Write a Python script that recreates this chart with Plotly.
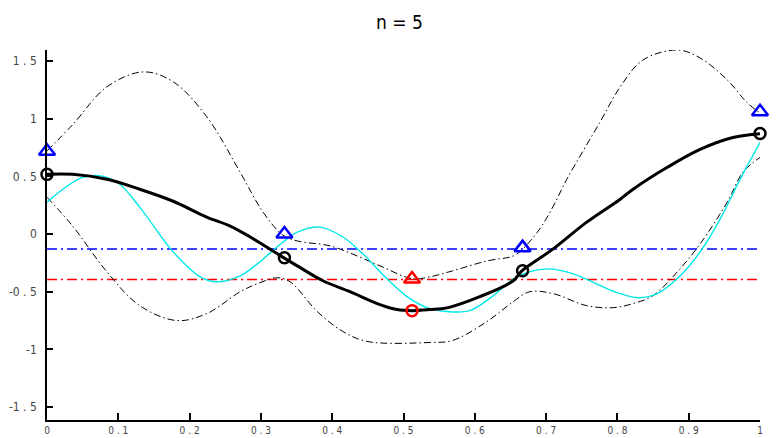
import plotly.graph_objects as go

# ---- data ----
mean_x = [0, 0.036, 0.084, 0.130, 0.177, 0.224, 0.257, 0.285, 0.330, 0.351, 0.387, 0.425, 0.463,
          0.491, 0.512, 0.537, 0.561, 0.607, 0.654, 0.666, 0.710, 0.757, 0.804, 0.822, 0.870,
          0.916, 0.962, 1.0]
mean_y = [0.517, 0.517, 0.474, 0.388, 0.284, 0.147, 0.069, -0.026, -0.198, -0.276, -0.405, -0.500,
          -0.603, -0.655, -0.664, -0.655, -0.640, -0.543, -0.405, -0.319, -0.129, 0.103, 0.302,
          0.388, 0.578, 0.733, 0.836, 0.870]

upper_x = [0, 0.036, 0.084, 0.135, 0.177, 0.224, 0.271, 0.303, 0.331, 0.351, 0.397, 0.435, 0.467,
           0.513, 0.537, 0.569, 0.617, 0.654, 0.668, 0.691, 0.710, 0.729, 0.776, 0.804, 0.836,
           0.884, 0.916, 0.954, 0.982, 1.0]
upper_y = [0.72, 0.948, 1.276, 1.405, 1.319, 1.017, 0.534, 0.190, -0.010, -0.060, -0.103, -0.190,
           -0.276, -0.388, -0.371, -0.319, -0.233, -0.190, -0.125, 0.043, 0.241, 0.474, 0.974,
           1.276, 1.509, 1.595, 1.526, 1.336, 1.138, 1.05]

lower_x = [0, 0.036, 0.084, 0.130, 0.182, 0.224, 0.271, 0.295, 0.323, 0.341, 0.379, 0.415, 0.449,
           0.537, 0.569, 0.617, 0.654, 0.677, 0.710, 0.757, 0.794, 0.822, 0.850, 0.884, 0.916,
           0.954, 0.976, 1.0]
lower_y = [0.319, 0.069, -0.328, -0.621, -0.750, -0.690, -0.500, -0.431, -0.379, -0.414, -0.672,
           -0.845, -0.931, -0.940, -0.922, -0.759, -0.586, -0.500, -0.517, -0.621, -0.638, -0.603,
           -0.534, -0.328, -0.086, 0.276, 0.534, 0.664]

true_x = [0, 0.028, 0.050, 0.079, 0.102, 0.130, 0.177, 0.215, 0.238, 0.271, 0.295, 0.331, 0.351,
          0.383, 0.415, 0.443, 0.477, 0.509, 0.537, 0.561, 0.593, 0.626, 0.659, 0.701, 0.738,
          0.776, 0.804, 0.829, 0.856, 0.888, 0.916, 0.944, 0.972, 1.0]
true_y = [0.276, 0.414, 0.491, 0.500, 0.431, 0.233, -0.155, -0.371, -0.414, -0.362, -0.259, -0.069,
          0.017, 0.060, -0.026, -0.172, -0.388, -0.560, -0.647, -0.672, -0.664, -0.534, -0.371,
          -0.302, -0.345, -0.448, -0.517, -0.552, -0.517, -0.362, -0.155, 0.129, 0.474, 0.793]

obs_x = [0, 0.333, 0.667, 1.0]
obs_y = [0.517, -0.205, -0.319, 0.871]
obs_ub = [0.718, 0.0, -0.118, 1.06]

new_x = [0.512]
new_y = [-0.664]
new_ub = [-0.39]

best_level = -0.129
new_level = -0.394

x_ticks = [0, 0.1, 0.2, 0.3, 0.4, 0.5, 0.6, 0.7, 0.8, 0.9, 1]
x_labels = ["0", "0 . 1", "0 . 2", "0 . 3", "0 . 4", "0 . 5", "0 . 6", "0 . 7", "0 . 8", "0 . 9", "1"]
y_ticks = [-1.5, -1, -0.5, 0, 0.5, 1, 1.5]
y_labels = ["-1 . 5", "-1", "-0 . 5", "0", "0 . 5", "1", "1 . 5"]

FONT = "Liberation Sans Narrow, Arial Narrow, DejaVu Sans Condensed, sans-serif"

fig = go.Figure()

fig.add_trace(go.Scatter(x=[0, 1], y=[best_level, best_level], mode="lines",
                         line=dict(color="#0000ff", width=1.5, dash="10px,4px,2px,4px")))
fig.add_trace(go.Scatter(x=[0, 1], y=[new_level, new_level], mode="lines",
                         line=dict(color="#ff0000", width=1.5, dash="10px,4px,2px,4px")))
fig.add_trace(go.Scatter(x=upper_x, y=upper_y, mode="lines", line_shape="spline",
                         line=dict(color="black", width=1, dash="7px,3px,1.5px,3px")))
fig.add_trace(go.Scatter(x=lower_x, y=lower_y, mode="lines", line_shape="spline",
                         line=dict(color="black", width=1, dash="7px,3px,1.5px,3px")))
fig.add_trace(go.Scatter(x=true_x, y=true_y, mode="lines", line_shape="spline",
                         line=dict(color="#00e8e8", width=1.4)))
fig.add_trace(go.Scatter(x=mean_x, y=mean_y, mode="lines", line_shape="spline",
                         line=dict(color="black", width=3)))

fig.add_trace(go.Scatter(x=obs_x, y=obs_ub, mode="markers", cliponaxis=False,
                         marker=dict(symbol="triangle-up-open", size=14, color="#0000ff",
                                     line=dict(width=2.5, color="#0000ff"))))
fig.add_trace(go.Scatter(x=new_x, y=new_ub, mode="markers", cliponaxis=False,
                         marker=dict(symbol="triangle-up-open", size=14, color="#ff0000",
                                     line=dict(width=2.5, color="#ff0000"))))
fig.add_trace(go.Scatter(x=obs_x, y=obs_y, mode="markers", cliponaxis=False,
                         marker=dict(symbol="circle-open", size=11, color="black",
                                     line=dict(width=2.5, color="black"))))
fig.add_trace(go.Scatter(x=new_x, y=new_y, mode="markers", cliponaxis=False,
                         marker=dict(symbol="circle-open", size=11, color="#ff0000",
                                     line=dict(width=2.5, color="#ff0000"))))

fig.update_layout(
    width=783, height=438,
    margin=dict(l=39, r=31, t=42, b=26, autoexpand=False),
    paper_bgcolor="white", plot_bgcolor="white",
    showlegend=False,
    title=dict(text="n = 5", x=0.5, xanchor="center", y=0.968, yanchor="middle",
               font=dict(family=FONT, size=19, color="black")),
    font=dict(family=FONT, size=12, color="#444444"),
)
fig.update_xaxes(range=[0, 1], tickvals=x_ticks, ticktext=x_labels, ticks="inside", ticklen=7,
                 tickcolor="black", tickwidth=1.5, showline=True, linecolor="black", linewidth=1.5,
                 showgrid=False, zeroline=False, automargin=False,
                 tickfont=dict(family=FONT, size=10, color="#444444"))
fig.update_yaxes(range=[-1.612, 1.595], tickvals=y_ticks, ticktext=y_labels, ticks="inside",
                 ticklen=6, tickcolor="black", tickwidth=1.5, showline=True, linecolor="black",
                 linewidth=1.5, showgrid=False, zeroline=False, ticklabelstandoff=6, automargin=False,
                 tickfont=dict(family=FONT, size=12, color="#444444"))

fig.write_html("out.html")
